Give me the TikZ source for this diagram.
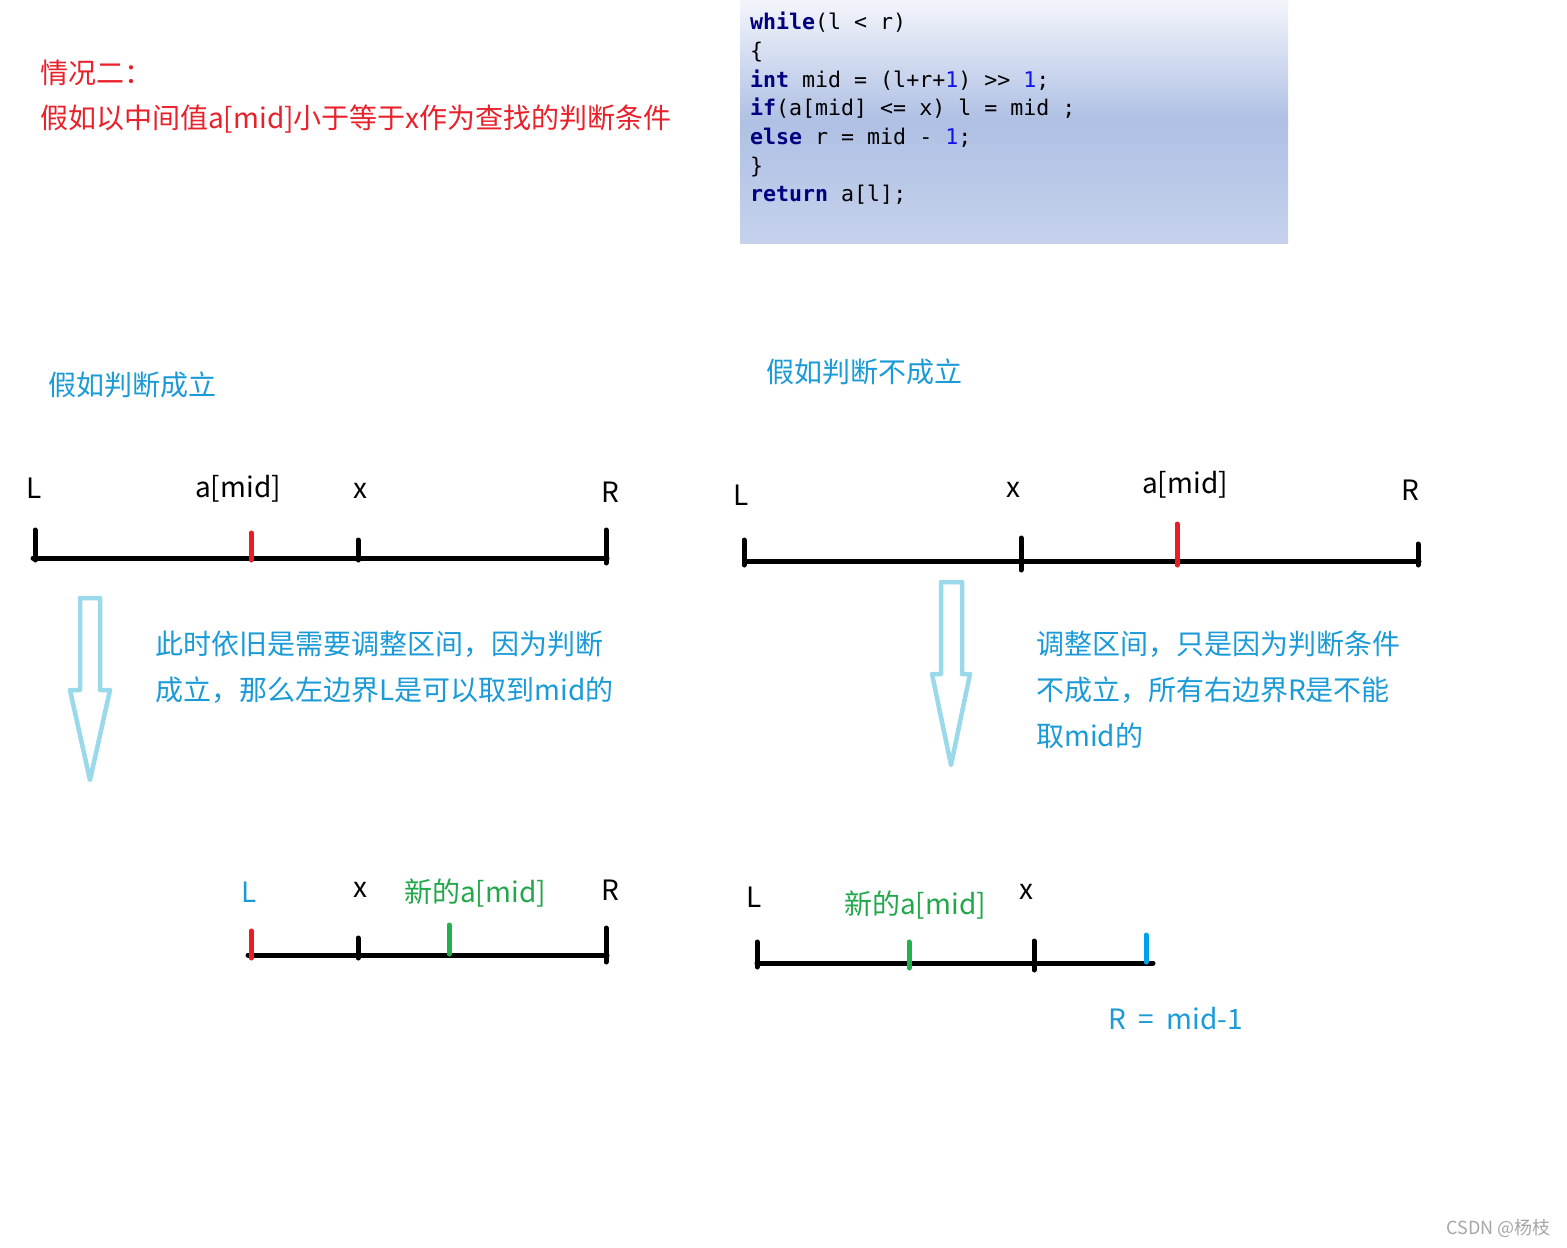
\documentclass[tikz,border=0pt]{standalone}
\usepackage{fontspec}
\newfontfamily\cjk{Noto Sans CJK SC}
\newfontfamily\codefont{DejaVu Sans Mono}
\definecolor{titlered}{HTML}{E8212B}
\definecolor{noteblue}{HTML}{1A9BD7}
\definecolor{newgreen}{HTML}{22A84A}
\definecolor{tickred}{HTML}{ED1C24}
\definecolor{tickgreen}{HTML}{22B14C}
\definecolor{tickblue}{HTML}{00A2E8}
\definecolor{arrowc}{HTML}{99D9EA}
\definecolor{kw}{HTML}{000080}
\definecolor{num}{HTML}{1010E8}
\definecolor{codetop}{HTML}{F3F5FB}
\definecolor{codemid}{HTML}{AFC0E4}
\definecolor{codebot}{HTML}{C6D2EC}
\newcommand{\kwd}[1]{\textbf{\color{kw}#1}}
\newcommand{\nm}[1]{{\color{num}#1}}

\begin{document}
\begin{tikzpicture}[x=1pt, y=-1pt,
  lbl/.style={font=\cjk\fontsize{28}{46}\selectfont, inner sep=0pt},
  title/.style={lbl, font=\cjk\fontsize{28}{46}\selectfont, text=titlered},
  note/.style={lbl, text=noteblue},
  code/.style={font=\codefont\fontsize{21.6}{28.7}\selectfont, inner sep=0pt, align=left},
  bar/.style={line width=5pt, line cap=round},
  blockarrow/.style={draw=arrowc, line width=4.5pt, line join=round}]
\fill[white] (0,0) rectangle (1567,1248);

% code box
\shade[top color=codetop, bottom color=codebot, middle color=codemid] (740,0) rectangle (1288,243);
\node[code, anchor=north west] (code) at (750,12) {\kwd{while}(l < r)\\
\{\\
\kwd{int} mid = (l+r+\nm{1}) >> \nm{1};\\
\kwd{if}(a[mid] <= x) l = mid ;\\
\kwd{else} r = mid - \nm{1};\\
\}\\
\kwd{return} a[l];};

% heading
\node[title, anchor=west] (case) at (40,73) {情况二：};
\node[title, anchor=west] (cond) at (40,119) {假如以中间值a[mid]小于等于x作为查找的判断条件};

% left: condition holds
\node[note, anchor=west] (yes) at (48,385) {假如判断成立};
\draw[bar] (33,558) -- (607,558);
\draw[bar] (35,530) -- (35,560);
\draw[bar, tickred] (251,533) -- (251,560);
\draw[bar] (358,540) -- (358,560);
\draw[bar] (606,530) -- (606,563);
\node[lbl] (l1) at (34,488) {L};
\node[lbl] (m1) at (238,489) {a[mid]};
\node[lbl] (x1) at (360,491) {x};
\node[lbl] (r1) at (610,492) {R};
\draw[blockarrow] (80,598) -- (100,598) -- (100,690) -- (110,690) -- (90,780) -- (70,690) -- (80,690) -- cycle;
\node[note, anchor=west, align=left] (why1) at (155,667) {此时依旧是需要调整区间，因为判断\\成立，那么左边界L是可以取到mid的};
\draw[bar] (248,955) -- (607,955);
\draw[bar, tickred] (251,931) -- (251,958);
\draw[bar] (358,938) -- (358,958);
\draw[bar, tickgreen] (449,925) -- (449,954);
\draw[bar] (606,928) -- (606,962);
\node[note] (l2) at (249,892) {L};
\node[lbl] (x2) at (360,890) {x};
\node[lbl, text=newgreen, anchor=west] (m2) at (404,893) {新的a[mid]};
\node[lbl] (r2) at (610,890) {R};

% right: condition fails
\node[note, anchor=west] (no) at (766,372) {假如判断不成立};
\draw[bar] (745,561) -- (1419,561);
\draw[bar] (744,540) -- (744,565);
\draw[bar] (1021,538) -- (1021,570);
\draw[bar, tickred] (1177,524) -- (1177,565);
\draw[bar] (1418,544) -- (1418,565);
\node[lbl] (l3) at (741,495) {L};
\node[lbl] (x3) at (1013,490) {x};
\node[lbl] (m3) at (1185,485) {a[mid]};
\node[lbl] (r3) at (1410,490) {R};
\draw[blockarrow] (941,582) -- (962,582) -- (962,674) -- (970,674) -- (951,765) -- (932,674) -- (941,674) -- cycle;
\node[note, anchor=west, align=left] (why2) at (1036,690) {调整区间，只是因为判断条件\\不成立，所有右边界R是不能\\取mid的};
\draw[bar] (757,963) -- (1153,963);
\draw[bar] (757,942) -- (757,967);
\draw[bar, tickgreen] (909,942) -- (909,968);
\draw[bar] (1034,941) -- (1034,970);
\draw[bar, tickblue] (1146,935) -- (1146,962);
\node[lbl] (l4) at (754,897) {L};
\node[lbl, text=newgreen, anchor=west] (m4) at (844,905) {新的a[mid]};
\node[lbl] (x4) at (1026,892) {x};
\node[note, anchor=west] (newr) at (1108,1019) {R\ \ =\ \ mid-1};

\node[font=\cjk\fontsize{18}{20}\selectfont, text=black!35, inner sep=0pt, anchor=east] (mark) at (1551,1228) {CSDN @杨枝};
\path (0,0) rectangle (1567,1248);
\end{tikzpicture}
\end{document}
